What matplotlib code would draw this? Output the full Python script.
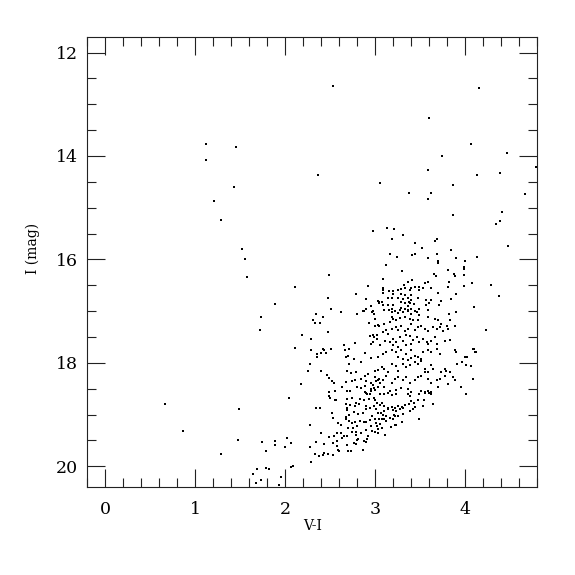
import matplotlib
matplotlib.use("Agg")
import matplotlib.pyplot as plt
from matplotlib.ticker import MultipleLocator

# V-I colour and I magnitude of the stars
sparse_vi = [1.12, 1.45, 1.12, 1.43, 1.21, 1.29, 1.52, 1.55, 1.57, 1.88, 1.73, 1.72,
             0.66, 1.49, 0.86, 1.47, 1.74, 1.89, 1.88, 1.78, 1.29, 1.64, 1.68, 1.79,
             1.82, 1.73, 1.67, 1.95, 1.93,
             2.53, 2.36, 3.05]
sparse_i = [13.76, 13.83, 14.07, 14.60, 14.87, 15.24, 15.79, 15.99, 16.34, 16.87, 17.12, 17.36,
            18.80, 18.90, 19.31, 19.49, 19.53, 19.51, 19.59, 19.71, 19.77, 20.14, 20.05, 20.03,
            20.06, 20.26, 20.32, 20.20, 20.36,
            12.64, 14.37, 14.52]

bright_vi = [4.15, 3.60, 4.06, 3.74, 4.46, 4.79, 3.59, 4.13, 4.39, 3.86, 3.37, 3.62, 3.58,
             4.66, 3.86, 4.41, 4.39, 4.34, 3.13,
             4.47, 4.13, 4.07, 4.28, 4.37, 4.10, 4.23, 4.09, 4.12, 4.06, 4.08]
bright_i = [12.69, 13.26, 13.76, 14.01, 13.94, 14.21, 14.27, 14.36, 14.33, 14.56, 14.72, 14.71, 14.83,
            14.73, 15.14, 15.09, 15.26, 15.31, 15.39,
            15.74, 15.96, 16.45, 16.50, 16.71, 16.92, 17.37, 17.73, 17.79, 18.07, 18.31]

faint_vi = [2.04, 2.34, 2.39, 2.27, 2.40, 2.02, 2.06, 2.00, 2.27, 2.34, 2.43, 2.48, 2.53,
            2.33, 2.37, 2.42, 2.47, 2.43, 2.29, 2.09, 2.06, 2.53, 2.58, 2.60, 2.57, 2.57,
            2.63, 2.62, 2.62, 2.70, 2.73, 2.68, 2.68, 2.79, 2.80, 2.86, 2.90, 2.91, 2.74,
            2.78, 2.52, 2.48, 2.56,
            2.50, 2.55, 2.68, 2.74, 2.83, 2.87, 2.91, 2.93, 2.94, 2.98, 3.00, 2.67, 2.72,
            2.77, 2.79, 2.82, 2.90, 2.94, 2.98, 2.69, 2.68, 3.01, 2.90, 2.86, 2.81, 2.76,
            2.71, 2.67, 2.67, 2.71, 2.74, 2.77, 2.80, 2.75, 2.70, 2.83, 2.87, 2.90, 2.94,
            2.96, 3.00, 3.01, 3.02, 2.95, 2.65, 2.90, 2.96, 3.00, 3.03, 2.92, 2.84, 2.79,
            2.81, 2.87, 2.76, 2.57, 2.54, 2.53, 2.59, 3.02, 3.03, 3.04]
faint_i = [18.67, 18.87, 18.88, 19.20, 19.35, 19.45, 19.55, 19.62, 19.62, 19.53, 19.56, 19.43, 19.54,
           19.76, 19.81, 19.78, 19.76, 19.74, 19.92, 19.99, 20.01, 19.78, 19.68, 19.70, 19.60, 19.51,
           19.46, 19.35, 19.21, 19.70, 19.70, 19.59, 19.42, 19.56, 19.50, 19.68, 19.53, 19.48, 19.34,
           19.34, 18.96, 18.64, 18.71,
           18.67, 18.71, 18.69, 18.67, 18.69, 18.71, 18.61, 18.69, 18.60, 18.68, 18.71, 18.80, 18.81,
           18.84, 18.77, 18.80, 18.84, 18.87, 18.84, 18.87, 18.91, 18.90, 18.90, 18.96, 18.99, 18.95,
           19.00, 19.04, 19.09, 19.12, 19.16, 19.14, 19.22, 19.25, 19.26, 19.12, 19.15, 19.15, 19.11,
           19.02, 19.09, 19.17, 19.22, 19.22, 19.41, 19.30, 19.32, 19.34, 19.28, 19.42, 19.35, 19.39,
           19.48, 19.52, 19.55, 19.35, 19.42, 19.06, 19.16, 18.77, 18.97, 19.09]

upper_vi = [2.97, 2.49, 2.11, 2.92, 2.78, 2.47, 2.90, 3.03, 3.04, 2.95, 2.90, 2.51, 2.62, 2.86, 2.97,
            3.21, 3.31, 3.18, 3.68, 3.66, 3.44, 3.52, 3.84, 3.16, 3.24, 3.41, 3.44, 3.68, 3.58,
            3.70, 3.70, 3.90, 4.13, 4.00, 3.12, 3.98, 3.99, 3.30, 3.81, 3.87, 3.88, 3.65, 3.67,
            3.99, 3.09, 3.41, 3.36, 3.59, 3.55, 3.32, 3.44, 3.81, 3.08, 3.08, 3.08, 3.15, 3.20,
            3.25, 3.28, 3.33, 3.38, 3.40, 3.49, 3.49, 3.53, 3.62, 3.82, 3.90, 3.99, 3.70, 3.20,
            3.29, 3.14, 3.19, 3.25, 3.33, 3.40, 3.47, 3.36, 3.31, 3.40, 3.29, 3.33, 3.37, 3.39,
            3.43, 3.36, 3.29, 3.33, 3.27, 3.36, 3.40, 3.44, 3.04, 3.07, 3.09, 3.14, 3.20, 3.19,
            3.15, 3.10, 3.56, 3.62, 3.56, 3.49, 3.58, 3.71, 3.73, 3.84, 3.60]
upper_i = [15.46, 16.31, 16.54, 16.52, 16.67, 16.75, 16.77, 16.80, 16.85, 16.91, 16.95, 16.95, 17.01, 17.00, 17.00,
           15.41, 15.53, 15.60, 15.60, 15.65, 15.68, 15.78, 15.81, 15.90, 15.96, 15.92, 15.90, 15.90, 15.97,
           16.03, 16.06, 15.97, 15.96, 16.03, 16.10, 16.14, 16.18, 16.23, 16.21, 16.29, 16.32, 16.29, 16.32,
           16.30, 16.38, 16.40, 16.43, 16.43, 16.46, 16.49, 16.54, 16.53, 16.56, 16.60, 16.64, 16.61, 16.62,
           16.60, 16.58, 16.56, 16.59, 16.56, 16.54, 16.60, 16.56, 16.56, 16.43, 16.66, 16.51, 16.65, 16.67,
           16.67, 16.74, 16.75, 16.74, 16.69, 16.69, 16.74, 16.75, 16.76, 16.78, 16.83, 16.85, 16.82, 16.85,
           16.87, 16.91, 16.93, 16.95, 16.98, 16.98, 16.95, 17.00, 16.83, 16.83, 16.89, 16.88, 16.88, 16.95,
           16.97, 16.97, 16.78, 16.78, 16.88, 16.95, 16.98, 16.89, 16.80, 16.76, 16.85]

mid_vi = [2.34, 2.42, 2.62, 2.80, 2.87, 2.96, 2.98, 3.00, 2.31, 2.33, 2.39, 2.93, 3.00, 3.03, 2.47,
          2.19, 2.29, 2.94, 2.97, 2.99, 3.02, 3.02, 2.97, 2.95, 2.77, 2.65, 2.11, 2.29, 2.42, 2.43,
          2.51, 2.66, 2.71, 2.89, 2.35, 2.40, 2.45, 2.70, 2.67, 2.76, 2.95, 3.03, 2.35, 2.84, 2.71,
          2.27, 2.25, 2.40, 2.69, 2.73, 2.78, 2.88, 2.92, 3.00, 3.03, 3.00, 2.46, 2.49, 2.52, 2.54,
          2.67, 2.74, 2.77, 2.84, 2.90, 2.95, 2.97, 3.01, 3.03, 2.17, 2.63, 2.80, 2.84, 2.88, 2.95,
          2.98, 3.03, 2.48, 2.55, 2.69, 2.72, 2.88, 2.90, 2.95, 3.00]
mid_i = [17.06, 17.11, 17.01, 17.06, 17.00, 17.02, 17.05, 17.15, 17.17, 17.23, 17.22, 17.23, 17.29, 17.27, 17.41,
         17.46, 17.53, 17.49, 17.46, 17.50, 17.47, 17.54, 17.60, 17.63, 17.61, 17.66, 17.72, 17.75, 17.73, 17.76,
         17.74, 17.75, 17.74, 17.81, 17.83, 17.81, 17.81, 17.86, 17.89, 17.92, 17.90, 17.89, 17.89, 17.99, 18.03,
         18.03, 18.16, 18.15, 18.16, 18.20, 18.18, 18.25, 18.21, 18.15, 18.14, 18.27, 18.23, 18.30, 18.36, 18.38,
         18.37, 18.36, 18.33, 18.31, 18.36, 18.38, 18.42, 18.36, 18.34, 18.40, 18.46, 18.46, 18.49, 18.44, 18.51,
         18.49, 18.47, 18.56, 18.54, 18.54, 18.54, 18.57, 18.59, 18.54, 18.52]

core_vi = [3.18, 3.22, 3.25, 3.31, 3.36, 3.40, 3.46, 3.48, 3.59, 3.66, 3.70, 3.82, 3.90, 3.18, 3.20,
           3.23, 3.27, 3.33, 3.38, 3.42, 3.47, 3.73, 3.80, 3.83, 3.04, 3.10, 3.16, 3.09, 3.12, 3.18,
           3.23, 3.25, 3.29, 3.33, 3.36, 3.40, 3.44, 3.47, 3.51, 3.55, 3.59, 3.64, 3.68, 3.72, 3.75,
           3.81, 3.88, 3.14, 3.05, 3.11, 3.16, 3.20, 3.23, 3.27, 3.31, 3.34, 3.38, 3.42, 3.46, 3.49,
           3.53, 3.57, 3.59, 3.62, 3.66, 3.68, 3.77, 3.83, 3.20, 3.25, 3.34, 3.40, 3.09, 3.12, 3.18,
           3.23, 3.29, 3.34, 3.40, 3.44, 3.47, 3.53, 3.58, 3.62, 3.68, 3.72, 3.89, 3.90, 4.00, 4.02,
           4.10, 4.11, 3.25, 3.31, 3.36, 3.40, 3.51, 3.07, 3.10, 3.18, 3.23, 3.31, 3.34, 3.38, 3.44,
           3.47, 3.51, 3.55, 3.59, 3.62, 3.64, 3.73, 3.77, 3.79, 3.83, 3.91, 3.96, 4.01, 3.14, 3.25,
           3.04, 3.05, 3.09, 3.12, 3.18, 3.22, 3.25, 3.31, 3.34, 3.38, 3.44, 3.47, 3.51, 3.55, 3.59,
           3.62, 3.68, 3.72, 3.77, 3.86, 3.89, 4.09, 3.95, 3.10, 3.16, 3.23, 3.29, 3.36, 3.40, 3.51,
           3.55, 3.59, 3.62, 3.70, 3.81, 4.01]
core_i = [17.02, 17.00, 17.04, 17.01, 17.00, 17.05, 17.02, 17.08, 17.11, 17.15, 17.18, 17.06, 17.02, 17.11, 17.15,
          17.18, 17.13, 17.11, 17.15, 17.18, 17.18, 17.24, 17.28, 17.18, 17.28, 17.24, 17.21, 17.40, 17.37, 17.34,
          17.31, 17.37, 17.28, 17.39, 17.34, 17.24, 17.37, 17.31, 17.28, 17.34, 17.39, 17.31, 17.34, 17.30, 17.39,
          17.34, 17.28, 17.44, 17.66, 17.58, 17.60, 17.53, 17.60, 17.50, 17.57, 17.47, 17.49, 17.55, 17.50, 17.60,
          17.53, 17.60, 17.63, 17.57, 17.50, 17.63, 17.58, 17.55, 17.66, 17.70, 17.66, 17.63, 17.83, 17.79, 17.76,
          17.79, 17.76, 17.83, 17.76, 17.86, 17.89, 17.79, 17.75, 17.79, 17.73, 17.83, 17.75, 17.79, 17.88, 17.89,
          17.73, 17.79, 17.89, 17.92, 17.94, 17.90, 17.92, 18.08, 18.12, 18.02, 18.07, 18.02, 18.08, 18.05, 17.99,
          18.02, 17.96, 18.12, 18.18, 18.05, 18.12, 18.18, 18.12, 18.15, 18.18, 18.02, 17.99, 18.05, 18.18, 18.15,
          18.31, 18.38, 18.34, 18.25, 18.38, 18.31, 18.28, 18.34, 18.28, 18.38, 18.34, 18.28, 18.25, 18.18, 18.31,
          18.38, 18.34, 18.31, 18.25, 18.28, 18.33, 18.31, 18.46, 18.47, 18.54, 18.52, 18.49, 18.50, 18.57, 18.54,
          18.57, 18.55, 18.57, 18.47, 18.41, 18.60]

lower_vi = [3.05, 3.10, 3.14, 3.18, 3.23, 3.36, 3.38, 3.49, 3.55, 3.60, 3.62, 3.54, 3.47, 3.40, 3.43,
            3.37, 3.33, 3.30, 3.25, 3.22, 3.18, 3.14, 3.10, 3.07, 3.05, 3.10, 3.14, 3.20, 3.23, 3.27,
            3.31, 3.38, 3.42, 3.44, 3.53, 3.64, 3.06, 3.09, 3.12, 3.16, 3.22, 3.21, 3.25, 3.31, 3.07,
            3.10, 3.12, 3.20, 3.23, 3.30, 3.49, 3.05, 3.07, 3.17, 3.03, 3.11, 3.22]
lower_i = [18.61, 18.61, 18.59, 18.63, 18.60, 18.61, 18.64, 18.61, 18.59, 18.58, 18.60, 18.72, 18.71, 18.74, 18.77,
           18.80, 18.82, 18.85, 18.84, 18.87, 18.85, 18.87, 18.84, 18.77, 18.82, 18.93, 18.89, 18.91, 18.93, 18.90,
           18.87, 18.93, 18.90, 18.85, 18.84, 18.80, 18.97, 19.00, 19.03, 19.06, 19.03, 19.00, 19.02, 18.98, 19.09,
           19.08, 19.13, 19.09, 19.21, 19.15, 19.08, 19.19, 19.26, 19.24, 19.35, 19.39, 19.21]

v_i = sparse_vi + bright_vi + faint_vi + upper_vi + mid_vi + core_vi + lower_vi
i_mag = sparse_i + bright_i + faint_i + upper_i + mid_i + core_i + lower_i

x_ticks = [0, 1, 2, 3, 4]
y_ticks = [12, 14, 16, 18, 20]

plt.rcParams['font.family'] = ['DejaVu Serif']

fig = plt.figure(figsize=(5.75, 5.75), dpi=100)
ax = fig.add_axes([87.3 / 575, 1 - 487 / 575, 450 / 575, 450 / 575])

ax.plot(v_i, i_mag, linestyle='none', marker='s', markersize=1.7,
        markeredgewidth=0, color='black')

ax.set_xlim(-0.2, 4.8)
ax.set_ylim(20.4, 11.7)
ax.set_xticks(x_ticks)
ax.set_yticks(y_ticks)
ax.xaxis.set_minor_locator(MultipleLocator(0.2))
ax.yaxis.set_minor_locator(MultipleLocator(0.5))
ax.tick_params(which='both', direction='in', top=True, right=True, width=0.8,
               color='#222222')
ax.tick_params(which='major', length=13, labelsize=12.5)
ax.tick_params(axis='x', which='major', pad=10)
ax.tick_params(axis='y', which='major', pad=7)
ax.tick_params(which='minor', length=6.5)
for s in ax.spines.values():
    s.set_linewidth(0.8)
    s.set_color('#222222')

ax.set_xlabel('V-I', fontsize=10)
ax.set_ylabel('I (mag)', fontsize=10)
ax.xaxis.set_label_coords(0.5, -0.07)
ax.yaxis.set_label_coords(-0.105, 0.53)

fig.savefig('out.png', dpi=100)
